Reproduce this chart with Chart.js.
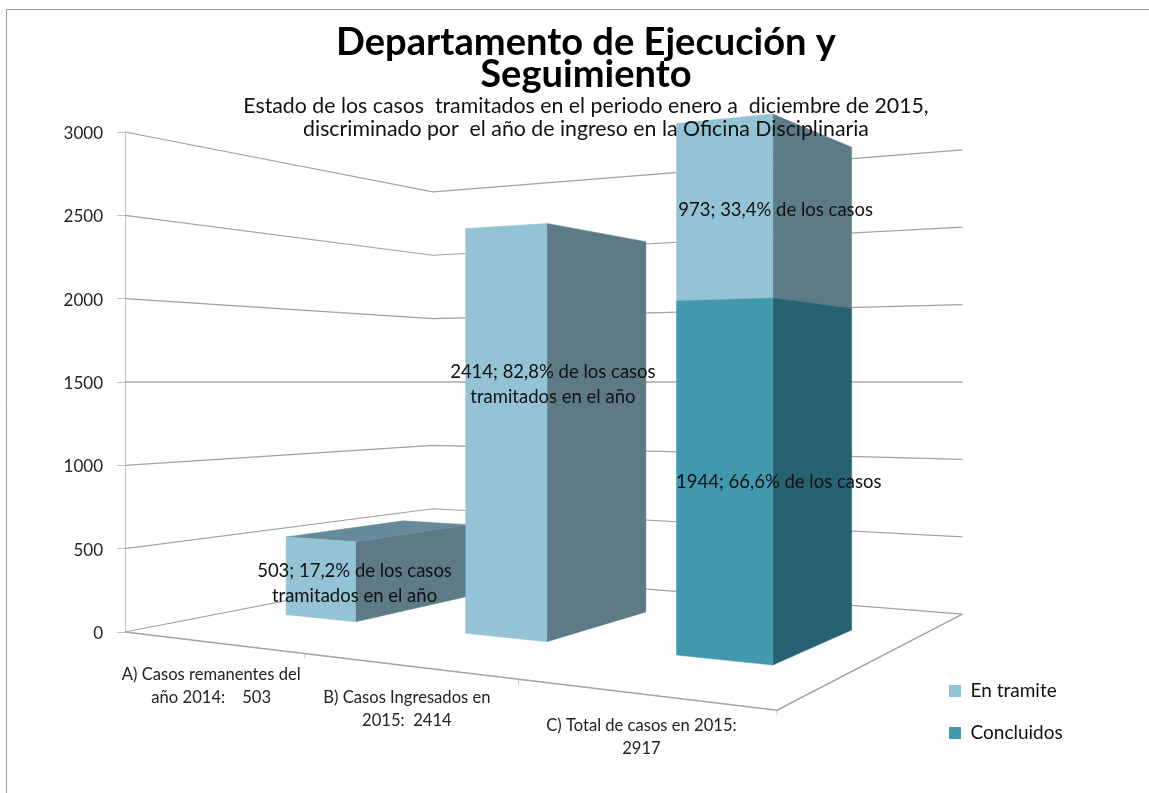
<!DOCTYPE html>
<html><head><meta charset="utf-8">
<style>html,body{margin:0;padding:0;background:#fff}canvas{display:block}</style>
<script src="https://cdn.jsdelivr.net/npm/chart.js@4/dist/chart.umd.min.js"></script>
</head><body><canvas id="c" width="1149" height="793"></canvas>
<script>
const categories = [
  ["A) Casos remanentes del", "año 2014:    503"],
  ["B) Casos Ingresados en", "2015:  2414"],
  ["C) Total de casos en 2015:", "2917"]
];
const concluidos = [null, null, 1944];
const enTramite = [503, 2414, 973];
const labelsConcluidos = [null, null, ["1944; 66,6% de los casos"]];
const labelsTramite = [
  ["503; 17,2% de los casos", "tramitados en el año"],
  ["2414; 82,8% de los casos", "tramitados en el año"],
  ["973; 33,4% de los casos"]
];
const yTicks = [0, 500, 1000, 1500, 2000, 2500, 3000];
const titleLines = ["Departamento de Ejecución y", "Seguimiento"];
const subtitleLines = ["Estado de los casos  tramitados en el periodo enero a  diciembre de 2015,", "discriminado por  el año de ingreso en la Oficina Disciplinaria"];

const FONT = "Lato, Carlito, 'Open Sans', sans-serif";
// perspective camera fitted to the picture: u along the front, w into the depth
const CAM = {d0: 6, du: -1.43, dw: 1.89, x0: 750, xu: 2801, xw: 2666, eyeValue: 1500};
const DEPTH = [0.305, 0.70];
const faceStyles = {
  "En tramite": {side: "#5C7B87", top: "#668A99"},
  "Concluidos": {side: "#276172", top: "#2F7488"}
};
// text placement relative to the projected bar corner
const nudge = {"En tramite": [[-1, 1.5], [6, -48], [3, 4]], "Concluidos": [[0, 0], [0, 0], [6, 0]]};

function project(chart, px, py, w) {
  const a = chart.chartArea, u = (px - a.left) / (a.right - a.left);
  const d = CAM.d0 + CAM.du * u + CAM.dw * w;
  const eye = chart.scales.y.getPixelForValue(CAM.eyeValue);
  return [(CAM.x0 + CAM.xu * u + CAM.xw * w) / d, eye + (py - eye) * CAM.d0 / d];
}
function poly(ctx, pts, fill) {
  ctx.beginPath();
  pts.forEach((p, i) => i ? ctx.lineTo(p[0], p[1]) : ctx.moveTo(p[0], p[1]));
  ctx.closePath();
  ctx.fillStyle = fill; ctx.fill();
  ctx.strokeStyle = fill; ctx.lineWidth = 0.5; ctx.stroke();
}
function segs(ctx, pts, color, width) {
  ctx.beginPath();
  pts.forEach((p, i) => i ? ctx.lineTo(p[0], p[1]) : ctx.moveTo(p[0], p[1]));
  ctx.strokeStyle = color; ctx.lineWidth = width; ctx.stroke();
}

const scene3d = {
  id: "scene3d",
  beforeLayout(chart) {
    // the titles sit above the bars, as in the reference
    chart.boxes.filter(b => b.position === "top").forEach(b => {
      b._layers = () => [{z: 1, draw(area) { b.draw(area); }}];
    });
  },
  afterLayout(chart) {
    chart.boxes.filter(b => b.position === "top").forEach(b => { b.left = 23; b.right = 1149; });
    const l = chart.legend;
    l.left = 926; l.right = 1140; l.top = 658.5; l.bottom = 790;
  },
  beforeDraw(chart) {
    const ctx = chart.ctx;
    ctx.save();
    segs(ctx, [[6.5, 793], [6.5, 9.5], [1149, 9.5]], "#9a9a9a", 1);
    ctx.restore();
  },
  beforeDatasetsDraw(chart) {
    const ctx = chart.ctx, a = chart.chartArea, y = chart.scales.y;
    ctx.save();
    yTicks.forEach(v => {
      const py = y.getPixelForValue(v);
      const color = v === 1500 ? "#7d7d7d" : "#a2a2a2";
      segs(ctx, [project(chart, a.left, py, 0), project(chart, a.left, py, 1), project(chart, a.right, py, 1)], color, 1.2);
    });
    const base = y.getPixelForValue(0);
    segs(ctx, [project(chart, a.left, base, 0), project(chart, a.right, base, 0), project(chart, a.right, base, 1)], "#a2a2a2", 1.4);
    for (let i = 1; i <= 3; i++) {
      const p = project(chart, a.left + (a.right - a.left) * i / 3, base, 0);
      segs(ctx, [p, [p[0], p[1] + 5]], "#c4c4c4", 1);
    }
    ctx.restore();
  },
  beforeDatasetDraw(chart, args) {
    const ctx = chart.ctx, eye = chart.scales.y.getPixelForValue(CAM.eyeValue);
    const ds = chart.data.datasets[args.index];
    const st = faceStyles[ds.label];
    ctx.save();
    args.meta.data.forEach((el, i) => {
      if (ds.data[i] == null) return;
      const l = el.x - el.width / 2, r = el.x + el.width / 2;
      const [n, f] = DEPTH;
      const front = [project(chart, l, el.y, n), project(chart, r, el.y, n), project(chart, r, el.base, n), project(chart, l, el.base, n)];
      const side = [project(chart, r, el.y, n), project(chart, r, el.y, f), project(chart, r, el.base, f), project(chart, r, el.base, n)];
      poly(ctx, side, st.side);
      if (el.y > eye) poly(ctx, [project(chart, l, el.y, n), project(chart, l, el.y, f), project(chart, r, el.y, f), project(chart, r, el.y, n)], st.top);
      poly(ctx, front, ds.backgroundColor);
    });
    ctx.restore();
    return false;
  },
  afterDatasetsDraw(chart) {
    const ctx = chart.ctx, y = chart.scales.y, x = chart.scales.x;
    ctx.save();
    ctx.textAlign = "center"; ctx.textBaseline = "middle";
    ctx.fillStyle = "#111";
    ctx.font = "18.5px " + FONT;
    chart.data.datasets.forEach((ds, di) => {
      const meta = chart.getDatasetMeta(di);
      meta.data.forEach((el, i) => {
        const lines = ds.barLabels[i];
        if (!lines) return;
        const p = project(chart, el.x + el.width / 2, (el.y + el.base) / 2, DEPTH[0]);
        const nd = nudge[ds.label][i];
        lines.forEach((t, k) => ctx.fillText(t, p[0] + nd[0], p[1] + nd[1] + (k - (lines.length - 1) / 2) * 24.5));
      });
    });
    ctx.font = "16.6px " + FONT;
    ctx.fillStyle = "#222";
    categories.forEach((lines, i) => {
      const p = project(chart, x.getPixelForTick(i), y.getPixelForValue(0), 0);
      lines.forEach((t, k) => ctx.fillText(t, p[0], p[1] + 32 + k * 23));
    });
    ctx.restore();
  }
};

new Chart(document.getElementById("c"), {
  type: "bar",
  data: {
    labels: categories,
    datasets: [
      {label: "Concluidos", data: concluidos, backgroundColor: "#4198AF", barLabels: labelsConcluidos},
      {label: "En tramite", data: enTramite, backgroundColor: "#93C3D5", barLabels: labelsTramite}
    ]
  },
  plugins: [scene3d],
  options: {
    responsive: false,
    animation: false,
    categoryPercentage: 1,
    barPercentage: 0.405,
    layout: {padding: {left: 64, right: 186, top: 0, bottom: 161}},
    scales: {
      x: {stacked: true, display: false},
      y: {
        stacked: true, min: 0, max: 3000,
        afterFit(s) { s.width = 61; },
        afterBuildTicks(s) { s.ticks = yTicks.map(v => ({value: v})); },
        border: {display: true, color: "#c4c4c4"},
        grid: {drawOnChartArea: false, drawTicks: true, tickLength: 8, color: "#c4c4c4"},
        ticks: {padding: 14, labelOffset: 1.5, color: "#222", font: {family: FONT, size: 17}, callback: v => String(v)}
      }
    },
    plugins: {
      title: {display: true, text: titleLines, color: "#000", padding: {top: 26.5, bottom: 0},
        font: {family: FONT, size: 38.1, weight: "bold", lineHeight: "32px"}},
      subtitle: {display: true, text: subtitleLines, color: "#111", padding: {top: 4.5, bottom: -9},
        font: {family: FONT, size: 21.3, lineHeight: "23px"}},
      legend: {position: "chartArea", reverse: true, align: "start",
        labels: {boxWidth: 12, boxHeight: 12, padding: 23, color: "#111", font: {family: FONT, size: 19}}},
      tooltip: {enabled: false}
    }
  }
});
</script></body></html>
